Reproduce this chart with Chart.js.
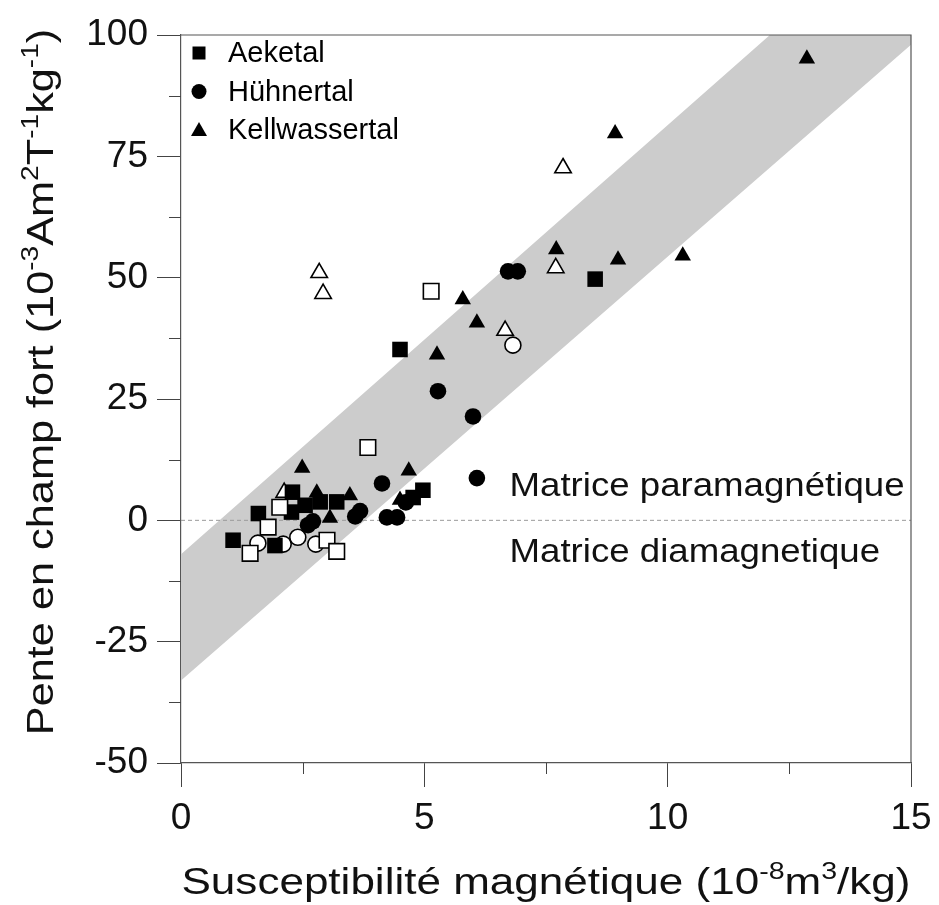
<!DOCTYPE html>
<html>
<head>
<meta charset="utf-8">
<script src="https://cdn.jsdelivr.net/npm/chart.js@4"></script>
<style>
  html, body { margin: 0; padding: 0; background: #fff; }
  #chart { display: block; }
</style>
</head>
<body>
<canvas id="chart" width="939" height="905"></canvas>
<script>
// Aeketal
const aeketalX = [1.07, 1.59, 1.93, 2.29, 2.27, 2.55, 2.86, 3.2, 4.77, 4.97, 4.5, 8.51];
const aeketalY = [-4.1, 1.4, -5.2, 5.8, 1.7, 3.1, 3.8, 3.8, 4.7, 6.2, 35.2, 49.7];
const aeketalOpenX = [1.42, 1.79, 2.03, 3.0, 3.2, 3.84, 5.14];
const aeketalOpenY = [-6.8, -1.4, 2.7, -4.1, -6.4, 15.0, 47.2];

// Hühnertal
const huhnerX = [2.61, 2.71, 3.58, 3.68, 4.13, 4.23, 4.44, 4.62, 5.28, 6.0, 6.08, 6.72, 6.92];
const huhnerY = [-1.0, -0.2, 0.8, 1.9, 7.6, 0.6, 0.6, 3.7, 26.6, 21.4, 8.7, 51.3, 51.3];
const huhnerOpenX = [1.58, 2.1, 2.4, 2.77, 6.82];
const huhnerOpenY = [-4.7, -4.9, -3.5, -4.9, 36.1];

// Kellwassertal
const kellX = [12.86, 8.92, 7.71, 8.98, 10.31, 5.79, 6.08, 5.26, 4.68, 2.49, 2.79, 3.47, 3.06, 4.5];
const kellY = [95.1, 79.7, 55.8, 53.7, 54.5, 45.5, 40.7, 34.1, 10.2, 10.8, 5.7, 5.1, 0.5, 4.2];
const kellOpenX = [7.85, 2.84, 2.92, 7.7, 6.66, 2.12];
const kellOpenY = [72.6, 51.0, 46.7, 52.0, 39.1, 5.7];

// grey band outline (closed)
const bandX = [0, 0, 12.1, 15, 15, 0];
const bandY = [-33, -7, 100, 100, 98, -33];

const xTicks = [0, 5, 10, 15];
const yTicks = [-50, -25, 0, 25, 50, 75, 100];

const FONT = 'Arial, "Liberation Sans", sans-serif';

function pts(xs, ys) {
  return xs.map((x, i) => ({ x, y: ys[i] }));
}

function markerSet(label, xs, ys, style, radius, open, order) {
  return {
    label,
    data: pts(xs, ys),
    pointStyle: style,
    pointRadius: radius,
    pointBackgroundColor: open ? "#ffffff" : "#000000",
    pointBorderColor: "#000000",
    pointBorderWidth: open ? 1.6 : 0,
    showLine: false,
    order,
  };
}

// text with raised parts, segments = [[text, isSup], ...], stretched horizontally by sx
function drawRich(ctx, segments, x, y, size, sx) {
  const supSize = Math.round(size * 0.66);
  const widths = segments.map(([t, sup]) => {
    ctx.font = `${sup ? supSize : size}px ${FONT}`;
    return ctx.measureText(t).width;
  });
  const total = widths.reduce((a, b) => a + b, 0);
  ctx.save();
  ctx.translate(x, y);
  ctx.scale(sx, 1);
  let cx = -total / 2;
  ctx.textBaseline = "alphabetic";
  ctx.textAlign = "left";
  segments.forEach(([t, sup], i) => {
    ctx.font = `${sup ? supSize : size}px ${FONT}`;
    ctx.fillText(t, cx, sup ? -size * 0.4 : 0);
    cx += widths[i];
  });
  ctx.restore();
}

function drawStretched(ctx, text, x, y, size, sx) {
  ctx.save();
  ctx.translate(x, y);
  ctx.scale(sx, 1);
  ctx.font = `${size}px ${FONT}`;
  ctx.textAlign = "left";
  ctx.textBaseline = "middle";
  ctx.fillText(text, 0, 0);
  ctx.restore();
}

const decorations = {
  id: "decorations",
  afterDatasetsDraw(chart) {
    const { ctx, chartArea, scales } = chart;
    const xs = scales.x;
    const ys = scales.y;
    ctx.save();

    // frame top / right
    ctx.strokeStyle = "#555";
    ctx.lineWidth = 1.2;
    ctx.beginPath();
    ctx.moveTo(chartArea.left, chartArea.top);
    ctx.lineTo(chartArea.right, chartArea.top);
    ctx.lineTo(chartArea.right, chartArea.bottom);
    ctx.stroke();

    // minor ticks
    ctx.strokeStyle = "#444";
    ctx.lineWidth = 1;
    ctx.beginPath();
    for (let i = 0; i < xTicks.length - 1; i++) {
      const px = Math.round(xs.getPixelForValue((xTicks[i] + xTicks[i + 1]) / 2)) + 0.5;
      ctx.moveTo(px, chartArea.bottom);
      ctx.lineTo(px, chartArea.bottom + 11);
    }
    for (let i = 0; i < yTicks.length - 1; i++) {
      const py = Math.round(ys.getPixelForValue((yTicks[i] + yTicks[i + 1]) / 2)) + 0.5;
      ctx.moveTo(chartArea.left, py);
      ctx.lineTo(chartArea.left - 12, py);
    }
    ctx.stroke();

    // legend (filled markers only)
    ctx.fillStyle = "#000";
    const items = [
      ["Aeketal", "rect"],
      ["Hühnertal", "circle"],
      ["Kellwassertal", "triangle"],
    ];
    items.forEach(([name, style], i) => {
      const cy = chartArea.top + 18 + i * 38.5;
      const mx = chartArea.left + 18;
      ctx.beginPath();
      if (style === "rect") {
        ctx.rect(mx - 6.5, cy - 6.5, 13, 13);
      } else if (style === "circle") {
        ctx.arc(mx, cy, 7.5, 0, Math.PI * 2);
      } else {
        ctx.moveTo(mx, cy - 8);
        ctx.lineTo(mx + 8, cy + 6);
        ctx.lineTo(mx - 8, cy + 6);
        ctx.closePath();
      }
      ctx.fill();
      drawStretched(ctx, name, chartArea.left + 47, cy + 1, 29, 1.0);
    });

    // matrix labels on either side of the zero line
    ctx.fillStyle = "#111";
    drawStretched(ctx, "Matrice paramagnétique", xs.getPixelForValue(6.75), ys.getPixelForValue(6.8), 33, 1.11);
    drawStretched(ctx, "Matrice diamagnetique", xs.getPixelForValue(6.75), ys.getPixelForValue(-6.8), 33, 1.11);

    // axis titles
    drawRich(ctx, [
      ["Susceptibilité magnétique (10", false],
      ["-8", true],
      ["m", false],
      ["3", true],
      ["/kg)", false],
    ], (chartArea.left + chartArea.right) / 2, 894, 37, 1.19);

    ctx.translate(53, 382);
    ctx.rotate(-Math.PI / 2);
    drawRich(ctx, [
      ["Pente en champ fort (10", false],
      ["-3", true],
      ["Am", false],
      ["2", true],
      ["T", false],
      ["-1", true],
      ["kg", false],
      ["-1", true],
      [")", false],
    ], 0, 0, 37, 1.17);

    ctx.restore();
  },
};

new Chart(document.getElementById("chart"), {
  type: "scatter",
  data: {
    datasets: [
      {
        type: "line",
        label: "band",
        data: pts(bandX, bandY),
        fill: "shape",
        backgroundColor: "#cccccc",
        borderWidth: 0,
        borderColor: "rgba(0,0,0,0)",
        pointRadius: 0,
        tension: 0,
        order: 20,
      },
      {
        type: "line",
        label: "zero",
        data: [{ x: 0, y: 0 }, { x: 15, y: 0 }],
        borderColor: "#9a9a9a",
        borderWidth: 1,
        borderDash: [4, 3],
        pointRadius: 0,
        fill: false,
        order: 19,
      },
      markerSet("Hühnertal (o)", huhnerOpenX, huhnerOpenY, "circle", 8, true, 8),
      markerSet("Hühnertal", huhnerX, huhnerY, "circle", 8.3, false, 7),
      markerSet("Kellwassertal", kellX, kellY, "triangle", 9.5, false, 6),
      markerSet("Kellwassertal (o)", kellOpenX, kellOpenY, "triangle", 9.5, true, 5),
      markerSet("Aeketal", aeketalX, aeketalY, "rect", 11, false, 4),
      markerSet("Aeketal (o)", aeketalOpenX, aeketalOpenY, "rect", 11, true, 3),
    ],
  },
  options: {
    responsive: false,
    animation: false,
    layout: { padding: { left: 0, top: 35, right: 28, bottom: 0 } },
    plugins: {
      legend: { display: false },
      tooltip: { enabled: false },
    },
    scales: {
      x: {
        type: "linear",
        min: 0,
        max: 15,
        afterFit: (scale) => {
          scale.height = 142;
          scale.paddingLeft = 0;
          scale.paddingRight = 0;
        },
        ticks: {
          stepSize: 5,
          color: "#111",
          padding: 10,
          font: { family: FONT, size: 37 },
        },
        grid: {
          drawOnChartArea: false,
          drawTicks: true,
          tickLength: 24,
          color: "#444",
        },
        border: { color: "#555", width: 1.2 },
      },
      y: {
        type: "linear",
        min: -50,
        max: 100,
        afterFit: (scale) => {
          scale.width = 181;
          scale.paddingTop = 0;
          scale.paddingBottom = 0;
        },
        ticks: {
          stepSize: 25,
          color: "#111",
          padding: 9,
          font: { family: FONT, size: 37 },
        },
        grid: {
          drawOnChartArea: false,
          drawTicks: true,
          tickLength: 24,
          color: "#444",
        },
        border: { color: "#555", width: 1.2 },
      },
    },
  },
  plugins: [decorations],
});
</script>
</body>
</html>
